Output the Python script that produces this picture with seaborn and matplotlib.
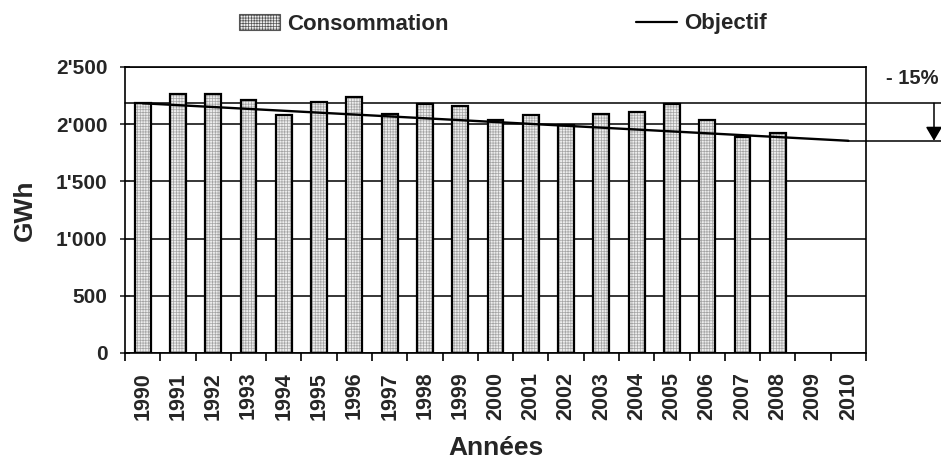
import numpy as np
import pandas as pd
import matplotlib
matplotlib.use("Agg")
import matplotlib.pyplot as plt
import matplotlib.transforms as mtransforms
from matplotlib.patches import Patch
from matplotlib.lines import Line2D
import seaborn as sns

# ---- data ----
years = [str(y) for y in range(1990, 2011)]
cons_years = [str(y) for y in range(1990, 2009)]
consommation = [2183, 2264, 2264, 2209, 2078, 2194, 2235, 2092, 2174, 2159,
                2040, 2078, 1990, 2092, 2107, 2174, 2040, 1891, 1920]
objectif_years = ["1990", "2010"]
objectif_values = [2183, 1855]
yticks = [0, 500, 1000, 1500, 2000, 2500]

sns.set_style("ticks")
plt.rcParams["font.family"] = ["Liberation Sans", "DejaVu Sans"]
plt.rcParams["font.weight"] = "bold"
plt.rcParams["hatch.linewidth"] = 0.5
plt.rcParams["hatch.color"] = "#a4a4a4"

fig = plt.figure(figsize=(9.41, 4.59), dpi=100)
L, R, B, T = 125 / 941, 866 / 941, 1 - 353 / 459, 1 - 67 / 459
ax = fig.add_axes([L, B, R - L, T - B])

df = pd.DataFrame({"Année": cons_years, "GWh": consommation})

# hatched fill layer
sns.barplot(data=df, x="Année", y="GWh", order=years, ax=ax, width=0.45,
            facecolor="#ededed", edgecolor="#a4a4a4", linewidth=0,
            hatch="++++++", errorbar=None, zorder=3)
# outline layer
sns.barplot(data=df, x="Année", y="GWh", order=years, ax=ax, width=0.45,
            facecolor="none", edgecolor="black", linewidth=1.6,
            errorbar=None, zorder=4)

# objective line
xpos = [years.index(y) for y in objectif_years]
ax.plot(xpos, objectif_values, color="black", lw=1.7, zorder=5)

# axes styling
ax.set_xlim(-0.5, len(years) - 0.5)
ax.set_ylim(0, 2500)
ax.set_yticks(yticks)
ax.set_yticklabels([f"{v:,}".replace(",", "'") for v in yticks])
ax.set_xticks(range(len(years)))
ax.set_xticklabels(years, rotation=90)
ax.set_xticks(np.arange(-0.5, len(years)), minor=True)
ax.tick_params(axis="x", which="major", length=0, pad=13.5, labelsize=15.5)
ax.tick_params(axis="x", which="minor", length=6, width=1.2, direction="out", color="black")
ax.tick_params(axis="y", which="major", length=7, width=1.2, direction="inout", pad=9, labelsize=15)
for lab in ax.get_xticklabels() + ax.get_yticklabels():
    lab.set_fontweight("bold")
ax.yaxis.grid(True, color="black", lw=1.1, zorder=0)
ax.set_axisbelow(True)
for s in ax.spines.values():
    s.set_visible(True)
    s.set_color("black")
    s.set_linewidth(1.2)

ax.set_xlabel("Années", fontsize=19, fontweight="bold")
ax.xaxis.set_label_coords(0.5, -0.29)
ax.set_ylabel("GWh", fontsize=19, fontweight="bold")
ax.yaxis.set_label_coords(-0.119, 0.5)

# -15% reference lines and arrow
trans = mtransforms.blended_transform_factory(ax.transAxes, ax.transData)
x_end = (941 - 125) / 741
ax.plot([0, x_end], [objectif_values[0]] * 2, color="black", lw=1.1,
        transform=trans, clip_on=False, zorder=2)
x2010 = (years.index(objectif_years[-1]) + 0.5) / len(years)
ax.plot([x2010, x_end], [objectif_values[-1]] * 2, color="black", lw=1.1,
        transform=trans, clip_on=False, zorder=2)
x_arrow = (934 - 125) / 741
ax.annotate("", xy=(x_arrow, objectif_values[-1]), xycoords=trans,
            xytext=(x_arrow, objectif_values[0]), textcoords=trans,
            arrowprops=dict(arrowstyle="-|>,head_length=0.85,head_width=0.5",
                            color="black", lw=1.1, shrinkA=0, shrinkB=0),
            annotation_clip=False)
fig.text(886 / 941, 1 - 78 / 459, "- 15%", fontsize=14.5, fontweight="bold",
         ha="left", va="center")

# legend
handles = [Patch(facecolor="#ededed", edgecolor="#555555", hatch="++++++", lw=0.8),
           Line2D([0], [0], color="black", lw=1.6)]
fig.legend(handles, ["Consommation", "Objectif"], loc="center",
           bbox_to_anchor=(503 / 941, 1 - 24 / 459), ncol=2, frameon=False,
           prop=dict(size=16, weight="bold"), handlelength=1.85,
           handleheight=0.75, handletextpad=0.35, columnspacing=8.4)

fig.savefig("out.png", dpi=100)
